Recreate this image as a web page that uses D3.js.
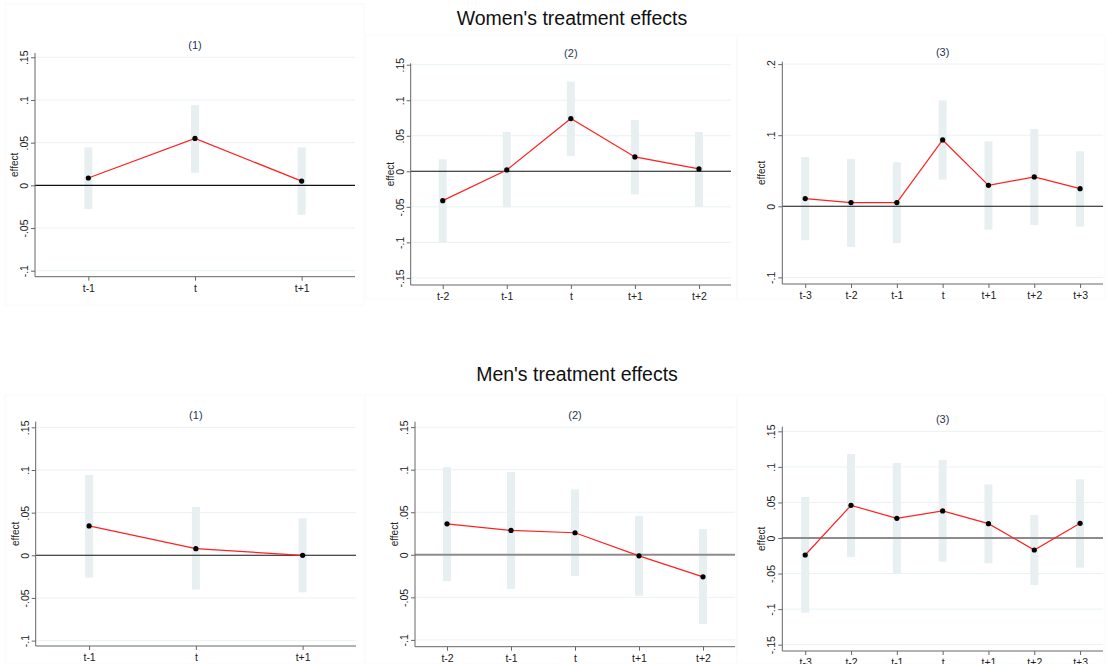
<!DOCTYPE html>
<html>
<head>
<meta charset="utf-8">
<script src="https://cdn.jsdelivr.net/npm/d3@7/dist/d3.min.js"></script>
<style>
  html, body { margin: 0; padding: 0; background: #fff; }
  svg { display: block; font-family: "Liberation Sans", Arial, sans-serif; }
</style>
</head>
<body>
<svg id="chart" width="1107" height="664"></svg>
<script>
// ---------------- DATA ----------------
const groupTitles = ["Women's treatment effects", "Men's treatment effects"];
const panelTitles = ["(1)", "(2)", "(3)"];

const cats1 = ["t-1", "t", "t+1"];
const cats2 = ["t-2", "t-1", "t", "t+1", "t+2"];
const cats3 = ["t-3", "t-2", "t-1", "t", "t+1", "t+2", "t+3"];

// Women
const womenEst1 = [0.0086, 0.055, 0.005];
const womenLo1  = [-0.0278, 0.0148, -0.0344];
const womenHi1  = [0.0445, 0.094, 0.0445];

const womenEst2 = [-0.0413, 0.0019, 0.0742, 0.0202, 0.0033];
const womenLo2  = [-0.100, -0.0507, 0.0216, -0.0324, -0.0502];
const womenHi2  = [0.0169, 0.0554, 0.1263, 0.0723, 0.0554];

const womenEst3 = [0.0108, 0.0052, 0.0052, 0.0933, 0.0295, 0.0413, 0.0248];
const womenLo3  = [-0.0478, -0.0572, -0.0516, 0.0375, -0.0328, -0.0263, -0.0286];
const womenHi3  = [0.0694, 0.0666, 0.0619, 0.149, 0.0914, 0.1088, 0.0774];

// Men
const menEst1 = [0.0344, 0.0078, 0.0];
const menLo1  = [-0.0262, -0.0402, -0.0434];
const menHi1  = [0.0941, 0.0566, 0.0434];

const menEst2 = [0.0364, 0.0286, 0.0259, -0.0012, -0.0259];
const menLo2  = [-0.031, -0.040, -0.0251, -0.0482, -0.0815];
const menHi2  = [0.103, 0.0972, 0.0768, 0.0455, 0.0302];

const menEst3 = [-0.0239, 0.0459, 0.0276, 0.038, 0.0202, -0.0169, 0.0206];
const menLo3  = [-0.105, -0.0267, -0.0497, -0.0333, -0.0356, -0.0661, -0.0417];
const menHi3  = [0.0576, 0.118, 0.1054, 0.1097, 0.0754, 0.0323, 0.0825];

// tick values and labels
const ticksA = [-0.1, -0.05, 0, 0.05, 0.1, 0.15];
const ticksALabels = ["-.1", "-.05", "0", ".05", ".1", ".15"];
const ticksB = [-0.15, -0.1, -0.05, 0, 0.05, 0.1, 0.15];
const ticksBLabels = ["-.15", "-.1", "-.05", "0", ".05", ".1", ".15"];
const ticksC = [-0.1, 0, 0.1, 0.2];
const ticksCLabels = ["-.1", "0", ".1", ".2"];

const yLabel = "effect";

// ---------------- LAYOUT (positions / styles) ----------------
const panels = [
  { title: panelTitles[0], cats: cats1, est: womenEst1, lo: womenLo1, hi: womenHi1,
    ticks: ticksA, tickLabels: ticksALabels,
    x0: 35, x1: 355, yTop: 53, yBot: 276.7, dom: [-0.107, 0.155], titleY: 49, zero: "black" },
  { title: panelTitles[1], cats: cats2, est: womenEst2, lo: womenLo2, hi: womenHi2,
    ticks: ticksB, tickLabels: ticksBLabels,
    x0: 410.7, x1: 731, yTop: 63.3, yBot: 285, dom: [-0.160, 0.152], titleY: 56.5, zero: "black" },
  { title: panelTitles[2], cats: cats3, est: womenEst3, lo: womenLo3, hi: womenHi3,
    ticks: ticksC, tickLabels: ticksCLabels,
    x0: 782.3, x1: 1103, yTop: 61.7, yBot: 284, dom: [-0.1093, 0.2034], titleY: 55.5, zero: "black" },
  { title: panelTitles[0], cats: cats1, est: menEst1, lo: menLo1, hi: menHi1,
    ticks: ticksA, tickLabels: ticksALabels,
    x0: 35.7, x1: 356, yTop: 421.7, yBot: 646, dom: [-0.1063, 0.1566], titleY: 419, zero: "black" },
  { title: panelTitles[1], cats: cats2, est: menEst2, lo: menLo2, hi: menHi2,
    ticks: ticksA, tickLabels: ticksALabels,
    x0: 415, x1: 735, yTop: 421.7, yBot: 646.7, dom: [-0.108, 0.1564], titleY: 419, zero: "gray" },
  { title: panelTitles[2], cats: cats3, est: menEst3, lo: menLo3, hi: menHi3,
    ticks: ticksB, tickLabels: ticksBLabels,
    x0: 782.3, x1: 1103, yTop: 426.7, yBot: 651, dom: [-0.1589, 0.1565], titleY: 423, zero: "gray" }
];

const frames = [
  [5, 4, 359, 301], [365, 35, 372, 264], [737, 35, 368, 264],
  [5, 395, 359, 269], [365, 395, 372, 269], [737, 395, 368, 269]
];

const svg = d3.select("#chart");

// faint panel frames
svg.selectAll("rect.frame").data(frames).join("rect")
  .attr("class", "frame")
  .attr("x", d => d[0]).attr("y", d => d[1])
  .attr("width", d => d[2]).attr("height", d => d[3])
  .attr("fill", "none").attr("stroke", "#fafafa").attr("stroke-width", 1);

// group titles
svg.append("text").attr("x", 572).attr("y", 25).attr("text-anchor", "middle")
  .attr("font-size", 19.5).attr("fill", "#111").text(groupTitles[0]);
svg.append("text").attr("x", 577).attr("y", 381).attr("text-anchor", "middle")
  .attr("font-size", 19.5).attr("fill", "#111").text(groupTitles[1]);

panels.forEach(p => {
  const n = p.cats.length;
  const idx = d3.range(n);
  const x = d3.scaleLinear().domain([0.5, n + 0.5]).range([p.x0, p.x1]);
  const y = d3.scaleLinear().domain(p.dom).range([p.yBot, p.yTop]);
  const g = svg.append("g");

  // grid lines
  g.selectAll("line.grid").data(p.ticks.filter(t => t !== 0)).join("line")
    .attr("x1", p.x0).attr("x2", p.x1)
    .attr("y1", d => y(d)).attr("y2", d => y(d))
    .attr("stroke", "#eaf2f3").attr("stroke-width", 1);

  // CI bars
  g.selectAll("rect.ci").data(idx).join("rect")
    .attr("x", i => x(i + 1) - 4).attr("width", 8)
    .attr("y", i => y(p.hi[i]))
    .attr("height", i => y(p.lo[i]) - y(p.hi[i]))
    .attr("fill", "#e8eff1");

  // zero line
  g.append("line")
    .attr("x1", p.x0).attr("x2", p.x1)
    .attr("y1", y(0)).attr("y2", y(0))
    .attr("stroke", p.zero === "gray" ? "#8c8c8c" : "#111")
    .attr("stroke-width", p.zero === "gray" ? 2 : 1.1);

  // y axis
  const yAxis = d3.axisLeft(y).tickValues(p.ticks).tickSize(4)
    .tickFormat((d, i) => p.tickLabels[i]);
  const ya = g.append("g").attr("transform", `translate(${p.x0},0)`).call(yAxis);
  ya.select(".domain").attr("stroke", "#666").attr("d", `M0,${p.yBot}V${p.yTop}`);
  ya.selectAll(".tick line").attr("stroke", "#666");
  ya.selectAll(".tick text")
    .attr("x", null).attr("dy", null)
    .attr("text-anchor", "middle")
    .attr("transform", "translate(-7,0) rotate(-90)")
    .attr("font-size", 10.5).attr("fill", "#222")
    .attr("font-family", "Liberation Sans, Arial, sans-serif");

  // x axis
  const xAxis = d3.axisBottom(x).tickValues(idx.map(i => i + 1)).tickSize(4)
    .tickFormat((d, i) => p.cats[i]);
  const xa = g.append("g").attr("transform", `translate(0,${p.yBot})`).call(xAxis);
  xa.select(".domain").attr("stroke", "#666").attr("d", `M${p.x0},0H${p.x1}`);
  xa.selectAll(".tick line").attr("stroke", "#666");
  xa.selectAll(".tick text").attr("y", 8).attr("dy", "0.71em")
    .attr("font-size", 10.5).attr("fill", "#222")
    .attr("font-family", "Liberation Sans, Arial, sans-serif");

  // y label
  svg.append("text")
    .attr("transform", `translate(${p.x0 - 17},${(p.yTop + p.yBot) / 2}) rotate(-90)`)
    .attr("text-anchor", "middle").attr("font-size", 10).attr("fill", "#222")
    .text(yLabel);

  // line
  const line = d3.line().x(i => x(i + 1)).y(i => y(p.est[i]));
  g.append("path").datum(idx).attr("d", line)
    .attr("fill", "none").attr("stroke", "#ff2020").attr("stroke-width", 1.2);

  // points
  g.selectAll("circle.pt").data(idx).join("circle")
    .attr("cx", i => x(i + 1)).attr("cy", i => y(p.est[i]))
    .attr("r", 2.6).attr("fill", "#000");

  // panel title
  svg.append("text").attr("x", (p.x0 + p.x1) / 2).attr("y", p.titleY)
    .attr("text-anchor", "middle").attr("font-size", 11).attr("fill", "#1f3552")
    .text(p.title);
});
</script>
</body>
</html>
